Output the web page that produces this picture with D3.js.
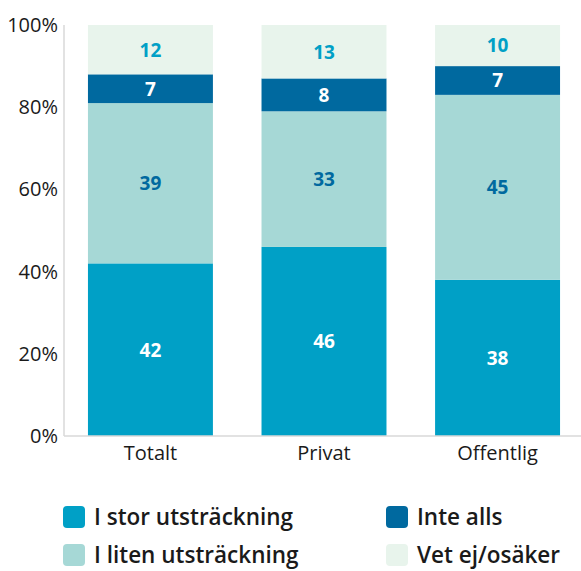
<!DOCTYPE html>
<html>
<head>
<meta charset="utf-8">
<script src="https://cdn.jsdelivr.net/npm/d3@7"></script>
<style>
body { margin: 0; background: #fff; }
text { font-family: "Open Sans", "Noto Sans", sans-serif; }
</style>
</head>
<body>
<svg id="graph"></svg>
<script>
var categories = ["Totalt", "Privat", "Offentlig"]
var seriesNames = ["I stor utsträckning", "I liten utsträckning", "Inte alls", "Vet ej/osäker"]
var storValues = [42, 46, 38]
var litenValues = [39, 33, 45]
var inteValues = [7, 8, 7]
var vetValues = [12, 13, 10]
var yTicks = [0, 20, 40, 60, 80, 100]

var colors = ["#00a0c6", "#a6d8d6", "#00699f", "#e8f4ec"]
var labelColors = ["#ffffff", "#00699f", "#ffffff", "#00a0c6"]

var screen = {width: 581, height: 571}
var svg = d3.select("#graph")
    .attr("width", screen.width)
    .attr("height", screen.height)

var xscale = d3.scaleBand()
    .domain(categories)
    .range([64, 584])
    .paddingInner(0.28)
    .paddingOuter(0.138)

var yscale = d3.scaleLinear()
    .domain([0, 100])
    .range([436, 25])

var rows = categories.map(function(c, i) {
    return {cat: c, stor: storValues[i], liten: litenValues[i], inte: inteValues[i], vet: vetValues[i]}
})
var keys = ["stor", "liten", "inte", "vet"]
var stacked = d3.stack().keys(keys)(rows)

// axis lines
svg.append("line")
    .attr("x1", 64).attr("x2", 64)
    .attr("y1", yscale(100)).attr("y2", yscale(0))
    .attr("stroke", "#d9d9d9").attr("stroke-width", 1.5)

stacked.forEach(function(layer, li) {
    var g = svg.append("g")
    g.selectAll("rect")
        .data(layer)
        .enter()
        .append("rect")
        .attr("x", function(d) { return xscale(d.data.cat) })
        .attr("width", xscale.bandwidth())
        .attr("y", function(d) { return yscale(d[1]) })
        .attr("height", function(d) { return yscale(d[0]) - yscale(d[1]) })
        .attr("fill", colors[li])
    g.selectAll("text")
        .data(layer)
        .enter()
        .append("text")
        .attr("x", function(d) { return xscale(d.data.cat) + xscale.bandwidth() / 2 })
        .attr("y", function(d) { return (yscale(d[0]) + yscale(d[1])) / 2 })
        .attr("dy", "0.36em")
        .attr("text-anchor", "middle")
        .attr("font-size", 19)
        .attr("font-weight", 700)
        .attr("fill", labelColors[li])
        .text(function(d) { return d[1] - d[0] })
})

svg.append("line")
    .attr("x1", 64).attr("x2", screen.width)
    .attr("y1", yscale(0)).attr("y2", yscale(0))
    .attr("stroke", "#d9d9d9").attr("stroke-width", 1.5)

var yAxis = d3.axisLeft(yscale)
    .tickValues(yTicks)
    .tickFormat(function(d) { return d + "%" })
    .tickSize(0)
    .tickPadding(6)
var yg = svg.append("g").attr("transform", "translate(64,0)").call(yAxis)
yg.select(".domain").remove()
yg.selectAll("text")
    .attr("font-size", 20)
    .attr("fill", "#1a1a1a")

var xAxis = d3.axisBottom(xscale).tickSize(0).tickPadding(10)
var xg = svg.append("g").attr("transform", "translate(0," + yscale(0) + ")").call(xAxis)
xg.select(".domain").remove()
xg.selectAll("text")
    .attr("font-size", 20)
    .attr("fill", "#1a1a1a")

// legend
var legendPos = [[63, 517], [63, 555], [386, 517], [386, 555]]
var legend = svg.selectAll(".legend")
    .data(seriesNames)
    .enter()
    .append("g")
    .attr("class", "legend")
    .attr("transform", function(d, i) { return "translate(" + legendPos[i][0] + "," + legendPos[i][1] + ")" })
legend.append("rect")
    .attr("x", 0).attr("y", -11)
    .attr("width", 22).attr("height", 22)
    .attr("rx", 4)
    .attr("fill", function(d, i) { return colors[i] })
legend.append("text")
    .attr("x", 31)
    .attr("dy", "0.36em")
    .attr("font-size", 22.5)
    .attr("font-weight", 600)
    .attr("fill", "#1a1a1a")
    .text(function(d) { return d })
</script>
</body>
</html>
